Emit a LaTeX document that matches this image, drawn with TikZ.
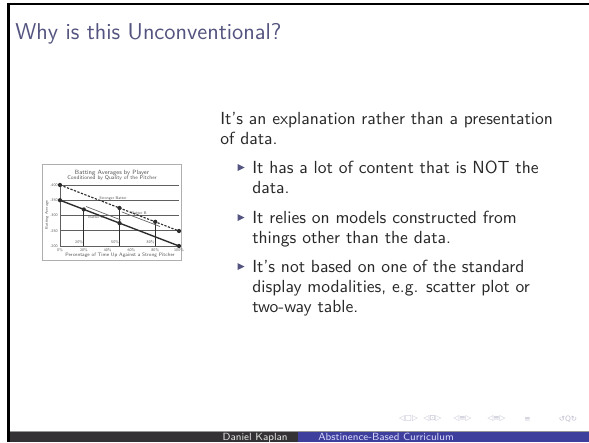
\documentclass[tikz,border=0pt]{standalone}
\usepackage{fontspec}
\newfontfamily\navfont{DejaVu Sans}
\definecolor{titlecol}{RGB}{84,84,128}
\definecolor{bodycol}{RGB}{40,40,40}
\definecolor{footdark}{RGB}{52,50,52}
\definecolor{footblue}{RGB}{62,62,156}
\definecolor{footline}{RGB}{150,150,150}
\definecolor{navcol}{RGB}{190,190,208}
\definecolor{chartink}{RGB}{45,45,45}
\definecolor{chartgrid}{RGB}{95,95,95}
\definecolor{chartbord}{RGB}{175,175,175}
\definecolor{charttext}{RGB}{85,85,85}
\tikzset{
  bodyline/.style={anchor=base west,inner sep=0pt,text=bodycol,font=\sffamily\fontsize{10.8}{12.3}\selectfont},
  bul/.style={fill=titlecol},
  ctext/.style={inner sep=0pt,text=charttext,font=\sffamily\fontsize{3}{3.5}\selectfont},
  ctiny/.style={inner sep=0pt,text=charttext,font=\sffamily\fontsize{2.4}{2.8}\selectfont},
  dot/.style={circle,fill=chartink,inner sep=0pt,minimum size=2.6pt},
  grid line/.style={draw=chartgrid,line width=0.45pt},
  navsym/.style={inner sep=0pt,text=navcol,font=\navfont\fontsize{4.6}{5}\selectfont},
  foottext/.style={inner sep=0pt,font=\sffamily\fontsize{6.4}{7}\selectfont}
}
\begin{document}
\begin{tikzpicture}[x=0.6162pt,y=-0.6162pt]
\useasboundingbox (0,0) rectangle (589,442);
\fill[white] (0,0) rectangle (589,442);
% frame edges
\fill[black] (7,3) rectangle (589,5.5);
\fill[black] (7,3) rectangle (9.5,442);
% title
\node[anchor=base west,inner sep=0pt,text=titlecol,font=\sffamily\fontsize{14.1}{16}\selectfont] (title) at (15,40) {Why is this Unconventional?};
% body text
\node[bodyline] (p1) at (220,124) {It's an explanation rather than a presentation};
\node[bodyline] (p2) at (220,144) {of data.};
\foreach \y in {173,223,272}{
  \fill[bul] (237.5,\y-9) -- (244.5,\y-5.5) -- (237.5,\y-2) -- cycle;
}
\node[bodyline] (i1a) at (252,173) {It has a lot of content that is NOT the};
\node[bodyline] (i1b) at (252,193) {data.};
\node[bodyline] (i2a) at (252,223) {It relies on models constructed from};
\node[bodyline] (i2b) at (252,243) {things other than the data.};
\node[bodyline] (i3a) at (252,272) {It's not based on one of the standard};
\node[bodyline] (i3b) at (252,292) {display modalities, e.g. scatter plot or};
\node[bodyline] (i3c) at (252,312) {two-way table.};
% chart image
\draw[chartbord,line width=0.6pt] (42,164) rectangle (181,260);
\node[ctext,font=\sffamily\fontsize{3.8}{4}\selectfont] (ct1) at (112,172.5) {Batting Averages by Player};
\node[ctext,font=\sffamily\fontsize{3.3}{4}\selectfont] (ct2) at (112,178.5) {Conditioned by Quality of the Pitcher};
\foreach \y in {185,200.25,215.5,230.75,246}{
  \draw[grid line] (60,\y) -- (179,\y);
}
\draw[grid line] (60,185) -- (60,246);
\foreach \y/\l in {185/.400,200.25/.350,215.5/.300,230.75/.250,246/.200}{
  \node[ctiny,anchor=east] at (58,\y) {\l};
}
\node[ctiny,rotate=90] (yax) at (47,215) {Batting Average};
\foreach \x/\l in {60/0\%,83.8/20\%,107.6/40\%,131.4/60\%,155.2/80\%,179/100\%}{
  \node[ctiny] at (\x,250.5) {\l};
}
\node[ctext,font=\sffamily\fontsize{3.1}{3.5}\selectfont] (xax) at (120,255) {Percentage of Time Up Against a Strong Pitcher};
\coordinate (d0) at (60,185);
\coordinate (d1) at (179,231);
\coordinate (s0) at (60,200.25);
\coordinate (s1) at (179,246);
\coordinate (sa) at (83.8,209.4);
\coordinate (sb) at (119.5,223.1);
\coordinate (da) at (119.5,208);
\coordinate (db) at (155.2,221.8);
\draw[chartink,line width=0.7pt,dash pattern=on 1.4pt off 0.9pt] (d0) -- (d1);
\draw[chartink,line width=0.85pt] (s0) -- (s1);
\draw[chartink,line width=0.5pt] (sa) -- (83.8,246);
\draw[chartink,line width=0.5pt] (da) -- (119.5,246);
\draw[chartink,line width=0.5pt] (db) -- (155.2,246);
\draw[chartgrid,line width=0.4pt] (86,206.5) -- (121,220);
\draw[chartgrid,line width=0.4pt] (122,212) -- (160,226.5);
\foreach \c in {d0,d1,s0,s1,sa,sb,da,db}{ \node[dot] at (\c) {}; }
\node[ctiny] (lbA) at (113,198.3) {Stronger Batter};
\node[ctiny] (lbB) at (96,217.5) {Batter A};
\node[ctiny] (lbC) at (139,213.5) {Batter B};
\node[ctiny] at (79,242.5) {20\%};
\node[ctiny] at (115,242.5) {50\%};
\node[ctiny] at (150.5,242.5) {80\%};
% navigation symbols
\node[navsym] (n1) at (408.5,419) {◁□▷};
\node[navsym] (n2) at (432.5,419) {◁⊡▷};
\node[navsym] (n3) at (462.5,419) {◁≡▷};
\node[navsym] (n4) at (496.5,419) {◁≡▷};
\node[navsym] (n5) at (527.5,419) {≡};
\node[navsym] (n6) at (568,419) {↺Q↻};
% footer
\fill[footline] (9.5,430.5) rectangle (589,432);
\fill[footdark] (9.5,432) rectangle (298,442);
\fill[footblue] (298,432) rectangle (589,442);
\node[foottext,anchor=base east,text=white!90!black] (auth) at (288,440.5) {Daniel Kaplan};
\node[foottext,anchor=base west,text=white!85!blue] (tit) at (318,440.5) {Abstinence-Based Curriculum};
\end{tikzpicture}
\end{document}
